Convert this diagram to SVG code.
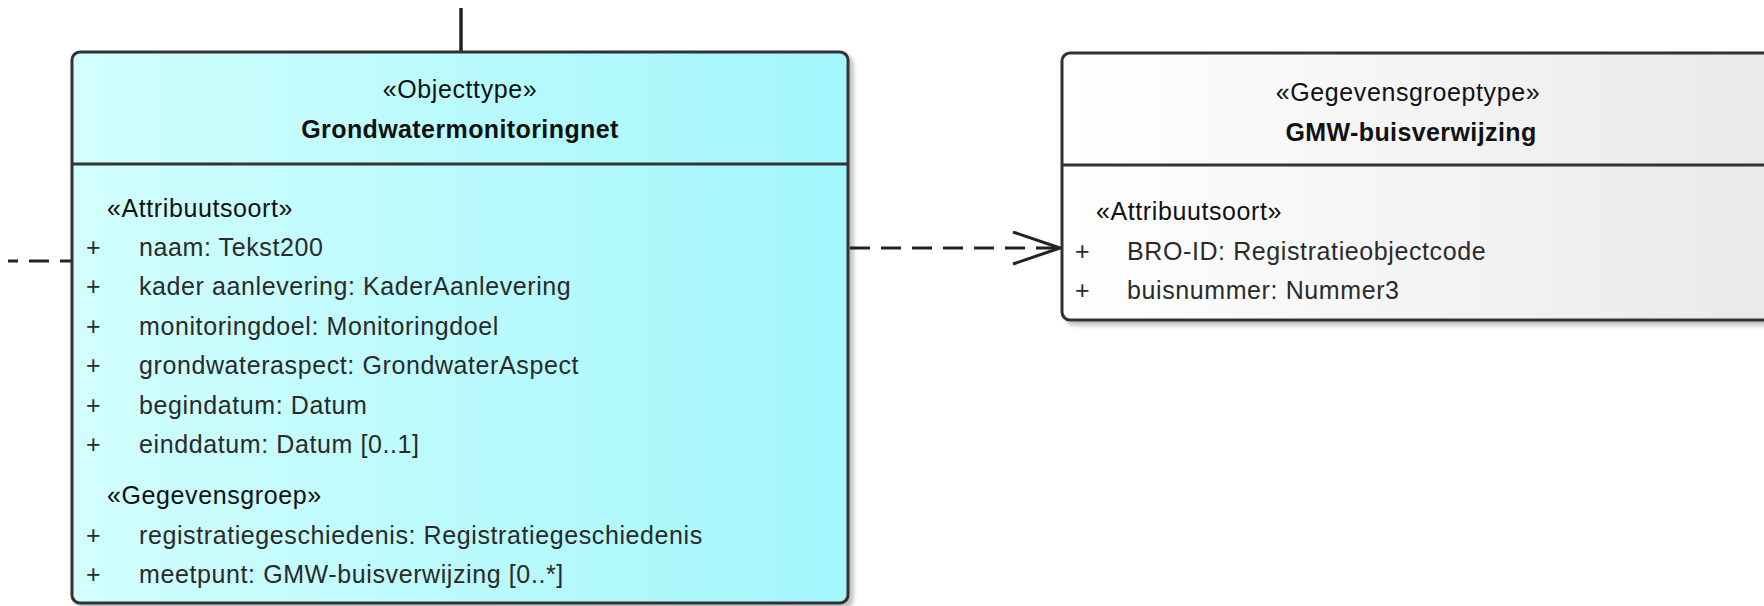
<svg xmlns="http://www.w3.org/2000/svg" width="1764" height="606" viewBox="0 0 1764 606">
<defs>
<linearGradient id="gCyan" x1="0" y1="0" x2="1" y2="0">
<stop offset="0" stop-color="#d2fefe"/>
<stop offset="1" stop-color="#a2f6fb"/>
</linearGradient>
<linearGradient id="gGrey" x1="0" y1="0" x2="1" y2="0">
<stop offset="0" stop-color="#ffffff"/>
<stop offset="1" stop-color="#e9e9e9"/>
</linearGradient>
<filter id="sh" x="-5%" y="-5%" width="110%" height="110%">
<feGaussianBlur in="SourceAlpha" stdDeviation="2"/>
<feOffset dx="4" dy="4" result="b"/>
<feComponentTransfer><feFuncA type="linear" slope="0.25"/></feComponentTransfer>
<feMerge><feMergeNode/><feMergeNode in="SourceGraphic"/></feMerge>
</filter>
<marker id="open" markerWidth="50" markerHeight="36" refX="48" refY="17" orient="auto" markerUnits="userSpaceOnUse">
<path d="M1,1 L48,17 L1,33" fill="none" stroke="#222" stroke-width="3"/>
</marker>
</defs>
<style>
.box{stroke:#333;stroke-width:3}
.div{stroke:#333;stroke-width:3}
text{font-family:"Liberation Sans",Arial,sans-serif;font-size:25px;fill:#2a2a2a;letter-spacing:0.6px}
.st{fill:#111}
.nm{font-weight:bold;fill:#111;letter-spacing:0.4px}
.c{text-anchor:middle}
.dash{stroke:#222;stroke-width:3;fill:none;stroke-dasharray:20 11}
.solid{stroke:#222;stroke-width:3.5;fill:none}
</style>
<rect width="1764" height="606" fill="#ffffff"/>
<g id="connectors">
<line class="solid" x1="461" y1="8" x2="461" y2="52"/>
<line class="dash" x1="72" y1="261" x2="8" y2="261" stroke-dashoffset="8"/>
<line class="dash" x1="850" y1="248" x2="1060" y2="248" marker-end="url(#open)"/>
</g>
<g id="node-grondwatermonitoringnet">
<rect class="box" x="72" y="52" width="776" height="551" rx="8" fill="url(#gCyan)" filter="url(#sh)"/>
<line class="div" x1="72" y1="164" x2="848" y2="164"/>
<text class="st c" x="460" y="98">«Objecttype»</text>
<text class="nm c" x="460" y="138">Grondwatermonitoringnet</text>
<text class="st" x="107" y="217">«Attribuutsoort»</text>
<text x="86" y="256">+</text><text x="139" y="256">naam: Tekst200</text>
<text x="86" y="295">+</text><text x="139" y="295">kader aanlevering: KaderAanlevering</text>
<text x="86" y="335">+</text><text x="139" y="335">monitoringdoel: Monitoringdoel</text>
<text x="86" y="374">+</text><text x="139" y="374">grondwateraspect: GrondwaterAspect</text>
<text x="86" y="414">+</text><text x="139" y="414">begindatum: Datum</text>
<text x="86" y="453">+</text><text x="139" y="453">einddatum: Datum [0..1]</text>
<text class="st" x="107" y="504">«Gegevensgroep»</text>
<text x="86" y="544">+</text><text x="139" y="544">registratiegeschiedenis: Registratiegeschiedenis</text>
<text x="86" y="583">+</text><text x="139" y="583">meetpunt: GMW-buisverwijzing [0..*]</text>
</g>
<g id="node-gmw-buisverwijzing">
<rect class="box" x="1062" y="53" width="720" height="267" rx="8" fill="url(#gGrey)" filter="url(#sh)"/>
<line class="div" x1="1062" y1="165" x2="1764" y2="165"/>
<text class="st c" x="1408" y="101">«Gegevensgroeptype»</text>
<text class="nm c" x="1411" y="141">GMW-buisverwijzing</text>
<text class="st" x="1096" y="220">«Attribuutsoort»</text>
<text x="1075" y="260">+</text><text x="1127" y="260">BRO-ID: Registratieobjectcode</text>
<text x="1075" y="299">+</text><text x="1127" y="299">buisnummer: Nummer3</text>
</g>
</svg>
